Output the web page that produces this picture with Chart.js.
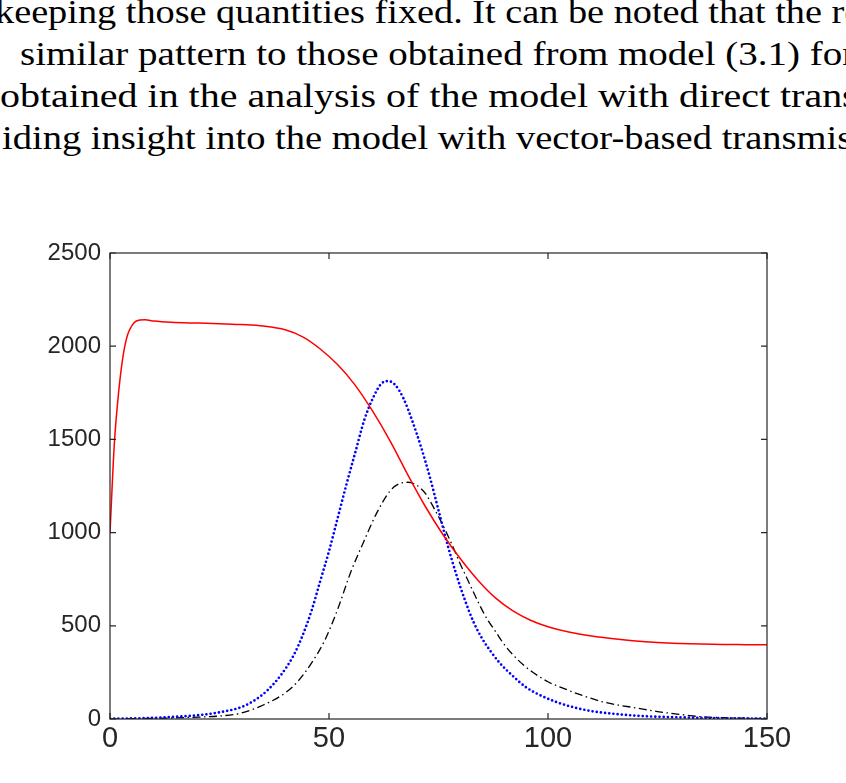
<!DOCTYPE html>
<html>
<head>
<meta charset="utf-8">
<script src="https://cdn.jsdelivr.net/npm/chart.js@4.4.1/dist/chart.umd.min.js"></script>
<style>
  html, body { margin: 0; padding: 0; background: #fff; }
  body { width: 846px; height: 783px; position: relative; overflow: hidden; }
  .line {
    position: absolute; white-space: nowrap;
    font-family: "Liberation Serif", serif;
    font-size: 33px; line-height: 33px; color: #000;
    transform-origin: 0 0;
  }
  #chart { position: absolute; left: 0; top: 0; }
</style>
</head>
<body>
<div class="line" id="l1">keeping those quantities fixed. It can be noted that the results</div>
<div class="line" id="l2">similar pattern to those obtained from model (3.1) for</div>
<div class="line" id="l3">obtained in the analysis of the model with direct transmission</div>
<div class="line" id="l4">iding insight into the model with vector-based transmission</div>
<canvas id="chart" width="846" height="783"></canvas>
<script>
// time points and values
const tRed = [0, 1, 2, 3, 4, 5, 6, 8, 10, 14, 20, 25, 30, 35, 40, 44, 48, 52, 56, 60, 64, 68, 72, 76, 80, 84, 88, 92, 96, 100, 105, 110, 115, 120, 125, 130, 135, 140, 145, 150];
const red = [1000, 1480, 1760, 1950, 2060, 2110, 2135, 2142, 2135, 2128, 2124, 2121, 2116, 2108, 2088, 2050, 1985, 1900, 1790, 1650, 1490, 1310, 1140, 990, 860, 745, 650, 580, 530, 495, 465, 445, 430, 418, 410, 405, 402, 400, 399, 398];

const tBlue = [0, 5, 10, 15, 20, 25, 30, 33, 36, 39, 42, 44, 46, 48, 50, 52, 54, 56, 58, 60, 62, 63.5, 65, 67, 69, 71, 73, 75, 77, 79, 81, 83, 85, 87, 89, 92, 95, 98, 102, 106, 110, 115, 120, 125, 130, 135, 140, 145, 150];
const blue = [2, 3, 6, 12, 20, 36, 64, 100, 155, 235, 345, 450, 580, 740, 900, 1080, 1260, 1430, 1600, 1720, 1800, 1813, 1795, 1720, 1600, 1460, 1300, 1120, 940, 780, 640, 520, 430, 360, 300, 230, 170, 130, 90, 62, 42, 28, 18, 12, 9, 6, 4, 3, 2];

const tBlack = [0, 10, 20, 25, 30, 35, 40, 43, 46, 49, 52, 55, 58, 61, 64, 66, 68, 70, 72, 74, 76, 78, 80, 82, 84, 86, 88, 90, 93, 96, 100, 104, 108, 112, 116, 120, 125, 130, 135, 140, 145, 150];
const black = [0, 3, 10, 16, 32, 75, 140, 205, 300, 420, 590, 790, 955, 1110, 1225, 1262, 1270, 1255, 1210, 1130, 1040, 940, 830, 730, 630, 540, 470, 400, 320, 260, 200, 160, 125, 95, 75, 60, 40, 25, 12, 7, 4, 2];

const xTicks = [0, 50, 100, 150];
const yTicks = [0, 500, 1000, 1500, 2000, 2500];

// fit the page text lines: [id, left, baseline, substring, substring end x]
const textFit = [
  ['l1', -5, 24, 'keeping those quantities fixed. It can be noted that the', 822],
  ['l2', 20, 66, 'similar pattern to those obtained from model (3.1)', 800],
  ['l3', 0, 108, 'obtained in the analysis of the model with direct', 770],
  ['l4', 2, 150, 'iding insight into the model with vector-based', 712]
];
const mctx = document.createElement('canvas').getContext('2d');
mctx.font = '33px "Liberation Serif"';
textFit.forEach(([id, left, base, sub, endX]) => {
  const el = document.getElementById(id);
  const s = (endX - left) / mctx.measureText(sub).width;
  el.style.left = left + 'px';
  el.style.top = (base - 27.6) + 'px';
  el.style.transform = 'scaleX(' + s + ')';
});

function pts(t, v) {
  return t.map((x, i) => ({ x: x, y: v[i] }));
}

const axisColor = '#262626';

// matlab style box with inward ticks
const boxPlugin = {
  id: 'box',
  afterDatasetsDraw(chart) {
    const { ctx, chartArea: a, scales } = chart;
    ctx.save();
    ctx.strokeStyle = axisColor;
    ctx.lineWidth = 1.2;
    ctx.strokeRect(a.left, a.top, a.right - a.left, a.bottom - a.top);
    const len = 6;
    ctx.beginPath();
    xTicks.forEach(v => {
      const x = scales.x.getPixelForValue(v);
      ctx.moveTo(x, a.bottom); ctx.lineTo(x, a.bottom - len);
      ctx.moveTo(x, a.top); ctx.lineTo(x, a.top + len);
    });
    yTicks.forEach(v => {
      const y = scales.y.getPixelForValue(v);
      ctx.moveTo(a.left, y); ctx.lineTo(a.left + len, y);
      ctx.moveTo(a.right, y); ctx.lineTo(a.right - len, y);
    });
    ctx.stroke();
    ctx.restore();
  }
};

new Chart(document.getElementById('chart'), {
  type: 'scatter',
  data: {
    datasets: [
      {
        data: pts(tRed, red),
        showLine: true,
        borderColor: '#ff0000',
        borderWidth: 1.5,
        pointRadius: 0,
        cubicInterpolationMode: 'monotone'
      },
      {
        data: pts(tBlue, blue),
        showLine: true,
        borderColor: '#0000ff',
        borderWidth: 2.7,
        borderDash: [0, 4.2],
        borderCapStyle: 'round',
        pointRadius: 0,
        cubicInterpolationMode: 'monotone'
      },
      {
        data: pts(tBlack, black),
        showLine: true,
        borderColor: '#000000',
        borderWidth: 1.3,
        borderDash: [8, 3.5, 1.5, 3.5],
        pointRadius: 0,
        cubicInterpolationMode: 'monotone'
      }
    ]
  },
  options: {
    responsive: false,
    animation: false,
    layout: { padding: { top: 253, right: 79, left: 0, bottom: 0 } },
    plugins: { legend: { display: false }, tooltip: { enabled: false } },
    scales: {
      x: {
        type: 'linear',
        min: 0, max: 150,
        afterFit(s) { s.height = 64; },
        afterBuildTicks(s) { s.ticks = xTicks.map(v => ({ value: v })); },
        grid: { display: false, drawTicks: false },
        border: { display: false },
        ticks: {
          color: axisColor, padding: 3,
          font: { family: 'Liberation Sans', size: 29 },
          callback: v => String(v)
        }
      },
      y: {
        min: 0, max: 2500,
        afterFit(s) { s.width = 110; },
        afterBuildTicks(s) { s.ticks = yTicks.map(v => ({ value: v })); },
        grid: { display: false, drawTicks: false },
        border: { display: false },
        ticks: {
          color: axisColor, padding: 9,
          font: { family: 'Liberation Sans', size: 24 },
          callback: v => String(v)
        }
      }
    }
  },
  plugins: [boxPlugin]
});
</script>
</body>
</html>
